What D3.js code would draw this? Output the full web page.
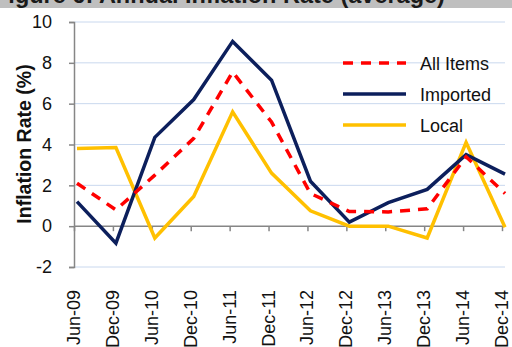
<!DOCTYPE html>
<html>
<head>
<meta charset="utf-8">
<script src="https://cdn.jsdelivr.net/npm/d3@7"></script>
<style>
  html, body { margin: 0; padding: 0; background: #fff; }
  svg { display: block; }
  text { font-family: "Liberation Sans", Arial, sans-serif; }
</style>
</head>
<body>
<svg id="chart" width="512" height="347"></svg>
<script>
// Half-yearly periods
const periods = ["Jun-09","Dec-09","Jun-10","Dec-10","Jun-11","Dec-11","Jun-12","Dec-12","Jun-13","Dec-13","Jun-14","Dec-14"];
// Annual average inflation rates (%)
const allItems = [2.1, 0.8, 2.5, 4.3, 7.55, 5.1, 1.6, 0.72, 0.7, 0.85, 3.4, 1.6];
const imported = [1.2, -0.83, 4.35, 6.2, 9.05, 7.15, 2.2, 0.2, 1.15, 1.8, 3.5, 2.55];
const local    = [3.8, 3.85, -0.58, 1.45, 5.6, 2.6, 0.75, 0.0, 0.0, -0.58, 4.1, -0.05];
const yTicks = [-2, 0, 2, 4, 6, 8, 10];

const series = [
  { name: "All Items", values: allItems, color: "#ff0000", dash: "10,8" },
  { name: "Imported",  values: imported, color: "#0c1f5c", dash: null },
  { name: "Local",     values: local,    color: "#ffc000", dash: null }
];

const svg = d3.select("#chart");
const axisX = 74, plotRight = 505;

const x = d3.scalePoint().domain(periods).range([77, 505]);
const y = d3.scaleLinear().domain([-2, 10]).range([267, 22]);

// Title strip
svg.append("rect").attr("x", 0).attr("y", 0).attr("width", 512).attr("height", 8).attr("fill", "#bfbfbf");
svg.append("text").attr("x", -6).attr("y", 3)
  .attr("font-size", 23.5).attr("font-weight", "bold").attr("fill", "#1a1a1a")
  .text("Figure 6: Annual Inflation Rate (average)");

// Horizontal gridlines
svg.append("g").selectAll("line").data(yTicks.filter(d => d !== 0)).join("line")
  .attr("x1", axisX).attr("x2", plotRight)
  .attr("y1", d => y(d)).attr("y2", d => y(d))
  .attr("stroke", "#c9d8ee").attr("stroke-width", 1);

// Y axis
const yAxis = svg.append("g").attr("transform", `translate(${axisX},0)`)
  .call(d3.axisLeft(y).tickValues(yTicks).tickSize(5).tickPadding(17).tickFormat(d => String(d)));
yAxis.select(".domain").attr("stroke", "#868686").attr("stroke-width", 1.5);
yAxis.selectAll(".tick line").attr("stroke", "#868686").attr("stroke-width", 1.5);
yAxis.selectAll(".tick text").attr("font-size", 18).attr("fill", "#111")
  .attr("font-family", "'Liberation Sans', Arial, sans-serif");

// Zero line with category ticks
svg.append("line").attr("x1", axisX).attr("x2", plotRight)
  .attr("y1", y(0)).attr("y2", y(0)).attr("stroke", "#868686").attr("stroke-width", 1.5);
const xAxis = svg.append("g").attr("transform", `translate(-3,${y(0)})`)
  .call(d3.axisBottom(x).tickSize(5).tickFormat(""));
xAxis.select(".domain").remove();
xAxis.selectAll(".tick line").attr("stroke", "#868686").attr("stroke-width", 1.5);

// Category labels, rotated
svg.append("g").selectAll("text").data(periods).join("text")
  .attr("transform", d => `translate(${x(d) + 3},290) rotate(-90)`)
  .attr("text-anchor", "end")
  .attr("font-size", 18).attr("fill", "#111")
  .text(d => d);

// Y axis title
svg.append("text").attr("transform", "translate(31,144) rotate(-90)")
  .attr("text-anchor", "middle").attr("font-size", 19.5).attr("font-weight", "bold").attr("fill", "#111")
  .text("Inflation Rate (%)");

// Lines
const line = d3.line().x((d, i) => x(periods[i])).y(d => y(d));
svg.append("g").selectAll("path").data(series.slice().reverse()).join("path")
  .attr("d", d => line(d.values))
  .attr("fill", "none")
  .attr("stroke", d => d.color)
  .attr("stroke-width", 3.5)
  .attr("stroke-dasharray", d => d.dash)
  .attr("stroke-linejoin", "miter");

// Legend
const legend = svg.append("g").selectAll("g").data(series).join("g")
  .attr("transform", (d, i) => `translate(343,${63 + i * 31})`);
legend.append("line").attr("x1", 0).attr("x2", 63)
  .attr("stroke", d => d.color).attr("stroke-width", 3.5).attr("stroke-dasharray", d => d.dash);
legend.append("text").attr("x", 77).attr("y", 6.5)
  .attr("font-size", 18).attr("fill", "#111").text(d => d.name);
</script>
</body>
</html>
